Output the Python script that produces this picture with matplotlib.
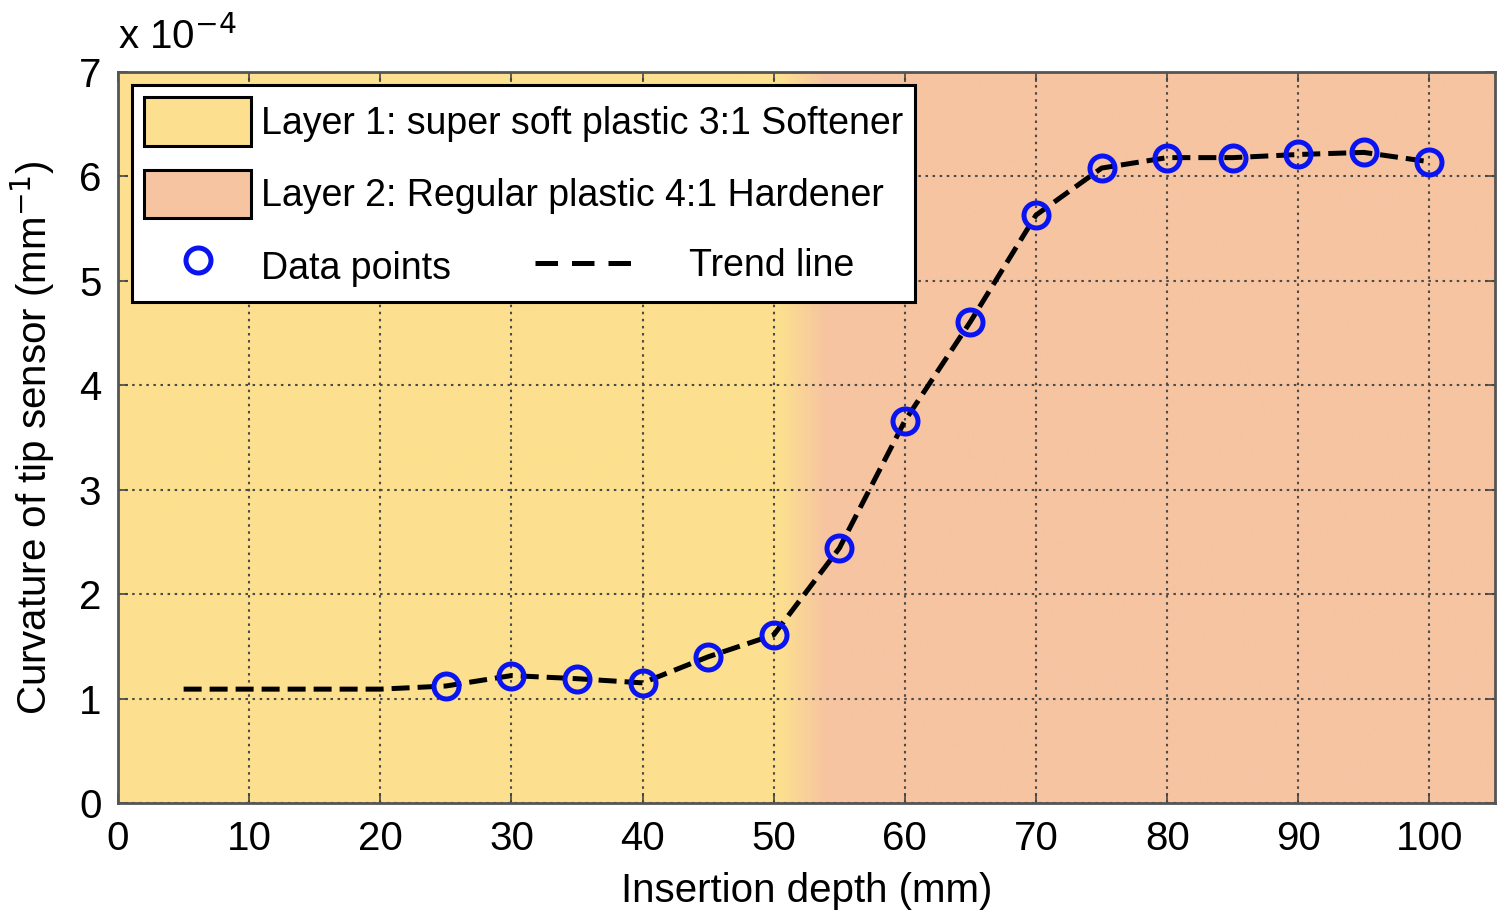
import numpy as np
import matplotlib
matplotlib.use("Agg")
import matplotlib.pyplot as plt
from matplotlib.patches import Patch
from matplotlib.lines import Line2D
from matplotlib.colors import to_rgb

# data (curvature in units of 1e-4 mm^-1)
depth = [25, 30, 35, 40, 45, 50, 55, 60, 65, 70, 75, 80, 85, 90, 95, 100]
curv = [1.12, 1.22, 1.19, 1.15, 1.40, 1.61, 2.44, 3.66, 4.61, 5.63,
        6.08, 6.18, 6.18, 6.21, 6.23, 6.14]
trend_depth = [5, 10, 15, 20] + depth
trend_curv = [1.09, 1.09, 1.09, 1.09] + curv
layer_split = (50.5, 54.0)   # colour transition between the layers (mm)

c_soft = "#FCE08F"
c_hard = "#F6C4A1"
blue = "#0a14f0"
dash = (0, (3.6, 1.6))

plt.rcParams["font.family"] = ["Liberation Sans", "DejaVu Sans"]

fig = plt.figure(figsize=(15, 9.16), dpi=100)
ax = fig.add_axes([0.0787, 0.1234, 0.918, 0.798])

# background: yellow -> peach
xs = np.linspace(0, 105, 1051)
t = np.clip((xs - layer_split[0]) / (layer_split[1] - layer_split[0]), 0, 1)
a, b = np.array(to_rgb(c_soft)), np.array(to_rgb(c_hard))
img = (a[None, :] * (1 - t[:, None]) + b[None, :] * t[:, None])[None, :, :]
ax.imshow(img, extent=[0, 105, 0, 7], aspect="auto", zorder=0, interpolation="bilinear")

ax.plot(trend_depth, trend_curv, color="black", lw=3.6, ls=dash, zorder=3)
ax.plot(depth, curv, ls="none", marker="o", ms=18, mfc="none", mec=blue, mew=3.6, zorder=4)

ax.set_xlim(0, 105)
ax.set_ylim(0, 7)
ax.set_xticks(range(0, 101, 10))
ax.set_yticks(range(0, 8))
ax.grid(True, color="#4a4a4a", ls=(0, (1.2, 2.2)), lw=1.5)
ax.tick_params(direction="in", top=True, right=True, labelsize=29, length=7, width=1.2,
               color="#444444", pad=12)
for s in ax.spines.values():
    s.set_color("#555555")
    s.set_linewidth(2)
ax.set_xlabel("Insertion depth (mm)", fontsize=29, labelpad=10)
ax.set_ylabel("Curvature of tip sensor (mm$^{-1}$)", fontsize=29, labelpad=16)
ax.text(0.0, 1.02, "x 10$^{-4}$", transform=ax.transAxes, fontsize=29, va="bottom", ha="left")

h1 = Patch(facecolor=c_soft, edgecolor="black", lw=2.2)
h2 = Patch(facecolor=c_hard, edgecolor="black", lw=2.2)
h3 = Line2D([], [], ls="none", marker="o", ms=18, mfc="none", mec=blue, mew=3.6)
leg = ax.legend([h1, h2, h3], ["Layer 1: super soft plastic 3:1 Softener",
                               "Layer 2: Regular plastic 4:1 Hardener", "Data points"],
                loc="upper left", bbox_to_anchor=(0.0102, 0.982), borderaxespad=0,
                fontsize=27, handlelength=2.85, handleheight=1.61, handletextpad=0.27,
                labelspacing=0.64, borderpad=0.32, fancybox=False, framealpha=1,
                edgecolor="black")
leg.get_frame().set_linewidth(2.2)
leg.set_zorder(5)
ax.add_artist(leg)
h4 = Line2D([], [], color="black", lw=3.6, ls=(0, (4.5, 2.8)))
leg2 = ax.legend([h4], ["Trend line"], loc="center left", bbox_to_anchor=(0.303, 0.735),
                 borderaxespad=0, borderpad=0, fontsize=27, frameon=False,
                 handlelength=2.6, handletextpad=1.5)
leg2.set_zorder(6)

fig.savefig("out.png", dpi=100)
